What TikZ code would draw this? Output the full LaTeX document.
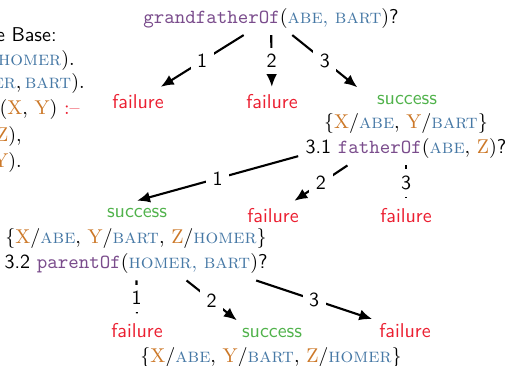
\documentclass[tikz,border=0pt]{standalone}
\usetikzlibrary{fit,arrows.meta}
\definecolor{predpurple}{RGB}{122,76,140}
\definecolor{conblue}{RGB}{70,120,165}
\definecolor{varorange}{RGB}{204,120,40}
\definecolor{failred}{RGB}{235,30,48}
\definecolor{succgreen}{RGB}{80,178,75}
\newcommand\kbvar[1]{\textcolor{varorange}{\textrm{#1}}}
\newcommand\kbcon[1]{\textcolor{conblue}{\textrm{\textsc{#1}}}}
\newcommand\kbpred[1]{\textcolor{predpurple}{\texttt{#1}}}
\newcommand\kblp{\textrm{(}}
\newcommand\kbrp{\textrm{)}}
\newcommand\kbsl{\textrm{/}}
\newcommand\kbcm{\textrm{,}}
\tikzset{
  txt/.style={font=\sffamily, anchor=base},
  kbline/.style={font=\sffamily, anchor=base east, inner sep=0pt},
  fail/.style={txt, text=failred},
  succ/.style={txt, text=succgreen},
  blockbox/.style={inner sep=0pt},
  lbl/.style={font=\sffamily, fill=white, midway},
  edge/.style={line width=1.05pt, -{Latex[length=6.5pt,width=5.5pt]}},
  plainedge/.style={line width=1.05pt, shorten >=1.2pt},
}
\begin{document}
\begin{tikzpicture}[x=0.5pt, y=-0.5pt]
\useasboundingbox (0,0) rectangle (508,365);
% knowledge base (cut off at the left edge)
\node[kbline] (kb1) at (57,41) {Knowledge Base:};
\node[kbline] (kb2) at (75,65) {\kbpred{fatherOf}\kblp\kbcon{abe}\kbcm\,\kbcon{homer}\kbrp\textrm{.}};
\node[kbline] (kb3) at (85,88) {\kbpred{parentOf}\kblp\kbcon{homer}\kbcm\,\kbcon{bart}\kbrp\textrm{.}};
\node[kbline] (kb4) at (80,114) {\kbpred{grandfatherOf}\kblp\kbvar{X}\kbcm{} \kbvar{Y}\kbrp{} \textcolor{failred}{\textrm{:--}}};
\node[kbline] (kb5) at (22,141) {\kbpred{fatherOf}\kblp\kbvar{X}\kbcm{} \kbvar{Z}\kbrp\kbcm};
\node[kbline] (kb6) at (22,167) {\kbpred{parentOf}\kblp\kbvar{Z}\kbcm{} \kbvar{Y}\kbrp\textrm{.}};
% root
\node[txt] (root) at (271,23) {\kbpred{grandfatherOf}\kblp\kbcon{abe}\textcolor{conblue}{\kbcm} \kbcon{bart}\kbrp?};
% first level
\node[fail] (f1) at (138,108) {failure};
\node[fail] (f2) at (272,108) {failure};
\node[succ] (s1) at (407,104) {success};
\node[txt] (u1) at (406,128) {\textrm{\{}\kbvar{X}\kbsl\kbcon{abe}\kbcm{} \kbvar{Y}\kbsl\kbcon{bart}\textrm{\}}};
\node[txt] (q1) at (406,153) {3.1 \kbpred{fatherOf}\kblp\kbcon{abe}\kbcm{} \kbvar{Z}\kbrp?};
\node[blockbox, fit=(s1)(u1)(q1)] (b1) {};
% second level
\node[succ] (s2) at (137,217) {success};
\node[txt] (u2) at (136,243) {\textrm{\{}\kbvar{X}\kbsl\kbcon{abe}\kbcm{} \kbvar{Y}\kbsl\kbcon{bart}\kbcm{} \kbvar{Z}\kbsl\kbcon{homer}\textrm{\}}};
\node[txt] (q2) at (136,268) {3.2 \kbpred{parentOf}\kblp\kbcon{homer}\textcolor{conblue}{\kbcm} \kbcon{bart}\kbrp?};
\node[blockbox, fit=(s2)(u2)(q2)] (b2) {};
\node[fail] (f3) at (273,222) {failure};
\node[fail] (f4) at (406,222) {failure};
% third level
\node[fail] (f5) at (137,337) {failure};
\node[succ] (s3) at (272,337) {success};
\node[txt] (u3) at (271,362) {\textrm{\{}\kbvar{X}\kbsl\kbcon{abe}\kbcm{} \kbvar{Y}\kbsl\kbcon{bart}\kbcm{} \kbvar{Z}\kbsl\kbcon{homer}\textrm{\}}};
\node[blockbox, fit=(s3)(u3)] (b3) {};
\node[fail] (f6) at (405,337) {failure};
% connectors
\draw[edge] (root) -- node[lbl] {1} (f1);
\draw[edge] (root) -- node[lbl] {2} (f2);
\draw[edge] (root) -- node[lbl] {3} (b1);
\draw[edge] (b1) -- node[lbl] {1} (s2.north);
\draw[edge] (b1) -- node[lbl] {2} (f3);
\draw[plainedge] (b1) -- node[lbl] {3} (f4);
\draw[plainedge] (b2) -- node[lbl] {1} (f5);
\draw[edge] (b2) -- node[lbl] {2} (b3);
\draw[edge] (b2) -- node[lbl] {3} (f6);
\end{tikzpicture}
\end{document}
